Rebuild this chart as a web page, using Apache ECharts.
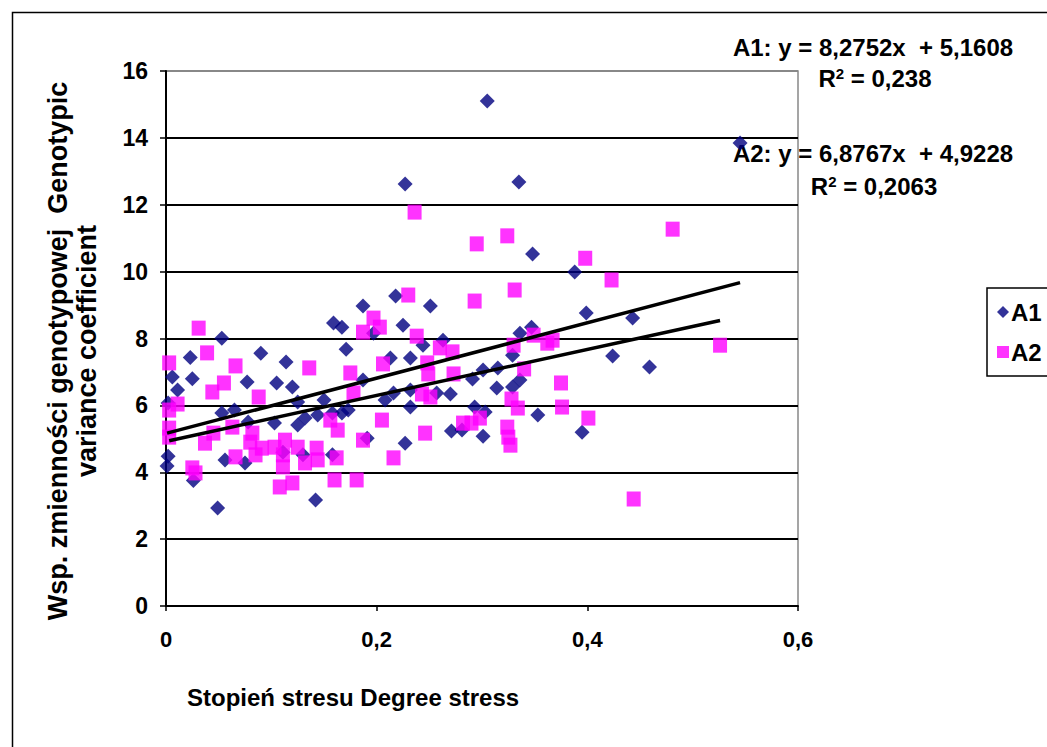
<!DOCTYPE html>
<html>
<head>
<meta charset="utf-8">
<script src="https://cdn.jsdelivr.net/npm/echarts@6/dist/echarts.min.js"></script>
<style>
html,body{margin:0;padding:0;background:#fff;}
#chart{width:1047px;height:747px;}
</style>
</head>
<body>
<div id="chart"></div>
<script>
// ---- data ----
const seriesNames = ['A1', 'A2'];
const a1Points = [
  [0.001,4.19],[0.002,4.48],[0.002,6.07],[0.006,6.85],[0.011,6.46],[0.023,7.43],[0.025,6.8],[0.026,3.75],
  [0.049,2.93],[0.053,8.01],[0.053,5.77],[0.056,4.37],[0.065,5.86],[0.075,4.28],[0.077,6.7],[0.078,5.5],
  [0.09,7.56],[0.103,5.47],[0.105,6.67],[0.111,4.6],[0.114,7.3],[0.12,6.55],[0.125,6.1],[0.125,5.41],
  [0.13,4.52],[0.132,5.62],[0.142,3.17],[0.144,5.71],[0.15,6.16],[0.158,5.77],[0.159,8.46],[0.158,4.52],
  [0.167,8.34],[0.171,7.68],[0.167,5.77],[0.173,5.86],[0.187,8.97],[0.187,6.76],[0.191,5.02],
  [0.197,8.16],[0.208,6.16],[0.213,7.42],[0.216,6.37],[0.218,9.27],[0.225,8.4],[0.227,12.62],[0.227,4.87],
  [0.232,7.42],[0.232,6.46],[0.232,5.95],[0.244,7.8],[0.251,8.97],[0.257,6.37],[0.263,7.95],[0.27,6.34],
  [0.271,5.23],[0.281,5.26],[0.291,6.79],[0.293,5.95],[0.301,7.06],[0.301,5.08],[0.303,5.8],[0.305,15.1],
  [0.314,6.52],[0.315,7.12],[0.329,7.5],[0.329,6.55],[0.335,12.68],[0.336,8.16],[0.336,6.76],[0.347,8.34],
  [0.348,10.53],[0.353,5.71],[0.388,9.99],[0.395,5.2],[0.399,8.76],[0.424,7.48],[0.443,8.61],[0.459,7.15],
  [0.545,13.85]
];
const a2Points = [
  [0.003,7.27],[0.003,5.86],[0.003,5.32],[0.003,5.05],[0.011,6.04],[0.025,4.13],[0.028,3.98],[0.031,8.31],
  [0.037,4.87],[0.039,7.57],[0.044,6.4],[0.045,5.17],[0.055,6.67],[0.063,5.35],[0.066,7.18],[0.066,4.46],
  [0.08,4.9],[0.082,5.17],[0.085,4.52],[0.088,6.25],[0.091,4.72],[0.103,4.75],[0.108,3.56],[0.111,4.52],
  [0.111,4.16],[0.113,4.96],[0.12,3.68],[0.125,4.75],[0.132,4.28],[0.136,7.12],[0.143,4.72],[0.144,4.37],
  [0.156,5.56],[0.16,3.77],[0.162,4.43],[0.163,5.26],[0.175,6.97],[0.178,6.37],[0.181,3.77],[0.187,8.19],
  [0.187,4.96],[0.197,8.61],[0.203,8.34],[0.205,5.56],[0.206,7.24],[0.216,4.43],[0.23,9.3],[0.236,11.78],
  [0.238,8.07],[0.243,6.34],[0.246,5.17],[0.248,7.27],[0.249,6.94],[0.251,6.25],[0.26,7.72],[0.272,7.6],
  [0.273,6.94],[0.282,5.47],[0.29,5.47],[0.293,9.12],[0.295,10.83],[0.298,5.62],[0.324,11.07],[0.324,5.35],
  [0.325,5.05],[0.327,4.81],[0.328,6.19],[0.33,7.8],[0.331,9.45],[0.334,5.92],[0.34,7.09],[0.349,8.1],
  [0.362,7.86],[0.367,7.95],[0.375,6.67],[0.376,5.95],[0.398,10.4],[0.401,5.62],[0.423,9.75],[0.444,3.2],
  [0.481,11.27],[0.526,7.8]
];
// trendline coefficients printed on the chart
const a1Slope = 8.2752, a1Intercept = 5.1608;
const a2Slope = 6.8767, a2Intercept = 4.9228;
const eqLine1 = ['A1: y = 8,2752x  + 5,1608', 'A2: y = 6,8767x  + 4,9228'];
const r2Values = ['0,238', '0,2063'];
const xTickLabels = ['0', '0,2', '0,4', '0,6'];
const yTickLabels = ['0', '2', '4', '6', '8', '10', '12', '14', '16'];
const xTitle = 'Stopień stresu Degree stress';
const yTitleLines = ['Wsp. zmienności genotypowej  Genotypic', 'variance coefficient'];

function trend(points, slope, intercept) {
  const xs = points.map(p => p[0]);
  const x0 = Math.min(...xs), x1 = Math.max(...xs);
  return [[x0, intercept + slope * x0], [x1, intercept + slope * x1]];
}

const FONT = '"Liberation Sans", Arial, sans-serif';
const chart = echarts.init(document.getElementById('chart'), null, {renderer: 'svg'});
const gridColors = ['#000','#000','#000','#000','#000','#000','#000','#000','#888'];

const r2Rich = {
  b: {fontFamily: FONT, fontWeight: 'bold', fontSize: 24, fill: '#000', color: '#000'},
  s: {fontFamily: FONT, fontWeight: 'bold', fontSize: 15, fill: '#000', color: '#000', verticalAlign: 'top', padding: [0, 0, 10, 0]}
};
function r2Text(x, y, val) {
  return {type: 'text', x: x, y: y,
    style: {text: '{b|R}{s|2}{b| = ' + val + '}', rich: r2Rich, font: 'bold 24px ' + FONT, fill: '#000', align: 'center', verticalAlign: 'middle'}};
}

chart.setOption({
  animation: false,
  backgroundColor: '#fff',
  grid: {left: 166, top: 71, right: 249, bottom: 141, show: true, borderColor: '#888', borderWidth: 1.5},
  xAxis: {
    type: 'value', min: 0, max: 0.6, interval: 0.2,
    axisLine: {show: true, onZero: false, lineStyle: {color: '#000', width: 2}},
    axisTick: {show: true, length: 5, lineStyle: {color: '#000', width: 1.5}},
    splitLine: {show: false},
    axisLabel: {margin: 22, color: '#000', fontFamily: FONT, fontWeight: 'bold', fontSize: 22,
      formatter: (v, i) => xTickLabels[i]}
  },
  yAxis: {
    type: 'value', min: 0, max: 16, interval: 2,
    axisLine: {show: true, lineStyle: {color: '#000', width: 2}},
    axisTick: {show: true, length: 6, lineStyle: {color: '#000', width: 1.5}},
    splitLine: {show: true, lineStyle: {color: gridColors, width: 2}},
    axisLabel: {margin: 18, color: '#000', fontFamily: FONT, fontWeight: 'bold', fontSize: 23,
      formatter: (v, i) => yTickLabels[i]}
  },
  legend: {
    orient: 'vertical', left: 987, top: 288,
    padding: [12, 60, 12, 10], itemGap: 16,
    borderColor: '#000', borderWidth: 1.5,
    itemWidth: 12, itemHeight: 12,
    textStyle: {color: '#000', fontFamily: FONT, fontWeight: 'bold', fontSize: 24, padding: [0, 0, 0, -3]},
    data: [{name: seriesNames[0], icon: 'diamond'}, {name: seriesNames[1], icon: 'rect'}]
  },
  series: [
    {name: seriesNames[0], type: 'scatter', data: a1Points, symbol: 'diamond', symbolSize: 15,
     itemStyle: {color: '#000080'}, z: 2},
    {name: seriesNames[1], type: 'scatter', data: a2Points, symbol: 'rect', symbolSize: [14, 15],
     itemStyle: {color: '#FF00FF'}, z: 3},
    {name: 'trend A1', type: 'line', data: trend(a1Points, a1Slope, a1Intercept), showSymbol: false,
     symbol: 'none', lineStyle: {color: '#000', width: 3.5}, z: 4, silent: true},
    {name: 'trend A2', type: 'line', data: trend(a2Points, a2Slope, a2Intercept), showSymbol: false,
     symbol: 'none', lineStyle: {color: '#000', width: 3.5}, z: 4, silent: true}
  ],
  graphic: [
    {type: 'rect', left: 10, top: 10, z: -10, silent: true,
     shape: {x: 0, y: 0, width: 1100, height: 800},
     style: {fill: 'none', stroke: '#000', lineWidth: 1.5}},
    {type: 'text', x: 58, y: 351, rotation: Math.PI / 2,
     style: {text: yTitleLines[0], font: 'bold 27px ' + FONT, fill: '#000', align: 'center', verticalAlign: 'middle'}},
    {type: 'text', x: 87, y: 351, rotation: Math.PI / 2,
     style: {text: yTitleLines[1], font: 'bold 27px ' + FONT, fill: '#000', align: 'center', verticalAlign: 'middle'}},
    {type: 'text', x: 187, y: 697,
     style: {text: xTitle, font: 'bold 24px ' + FONT, fill: '#000', align: 'left', verticalAlign: 'middle'}},
    {type: 'text', x: 873, y: 47,
     style: {text: eqLine1[0], font: 'bold 24px ' + FONT, fill: '#000', align: 'center', verticalAlign: 'middle'}},
    r2Text(875, 78, r2Values[0]),
    {type: 'text', x: 873, y: 153,
     style: {text: eqLine1[1], font: 'bold 24px ' + FONT, fill: '#000', align: 'center', verticalAlign: 'middle'}},
    r2Text(874, 186, r2Values[1])
  ]
});
</script>
</body>
</html>
